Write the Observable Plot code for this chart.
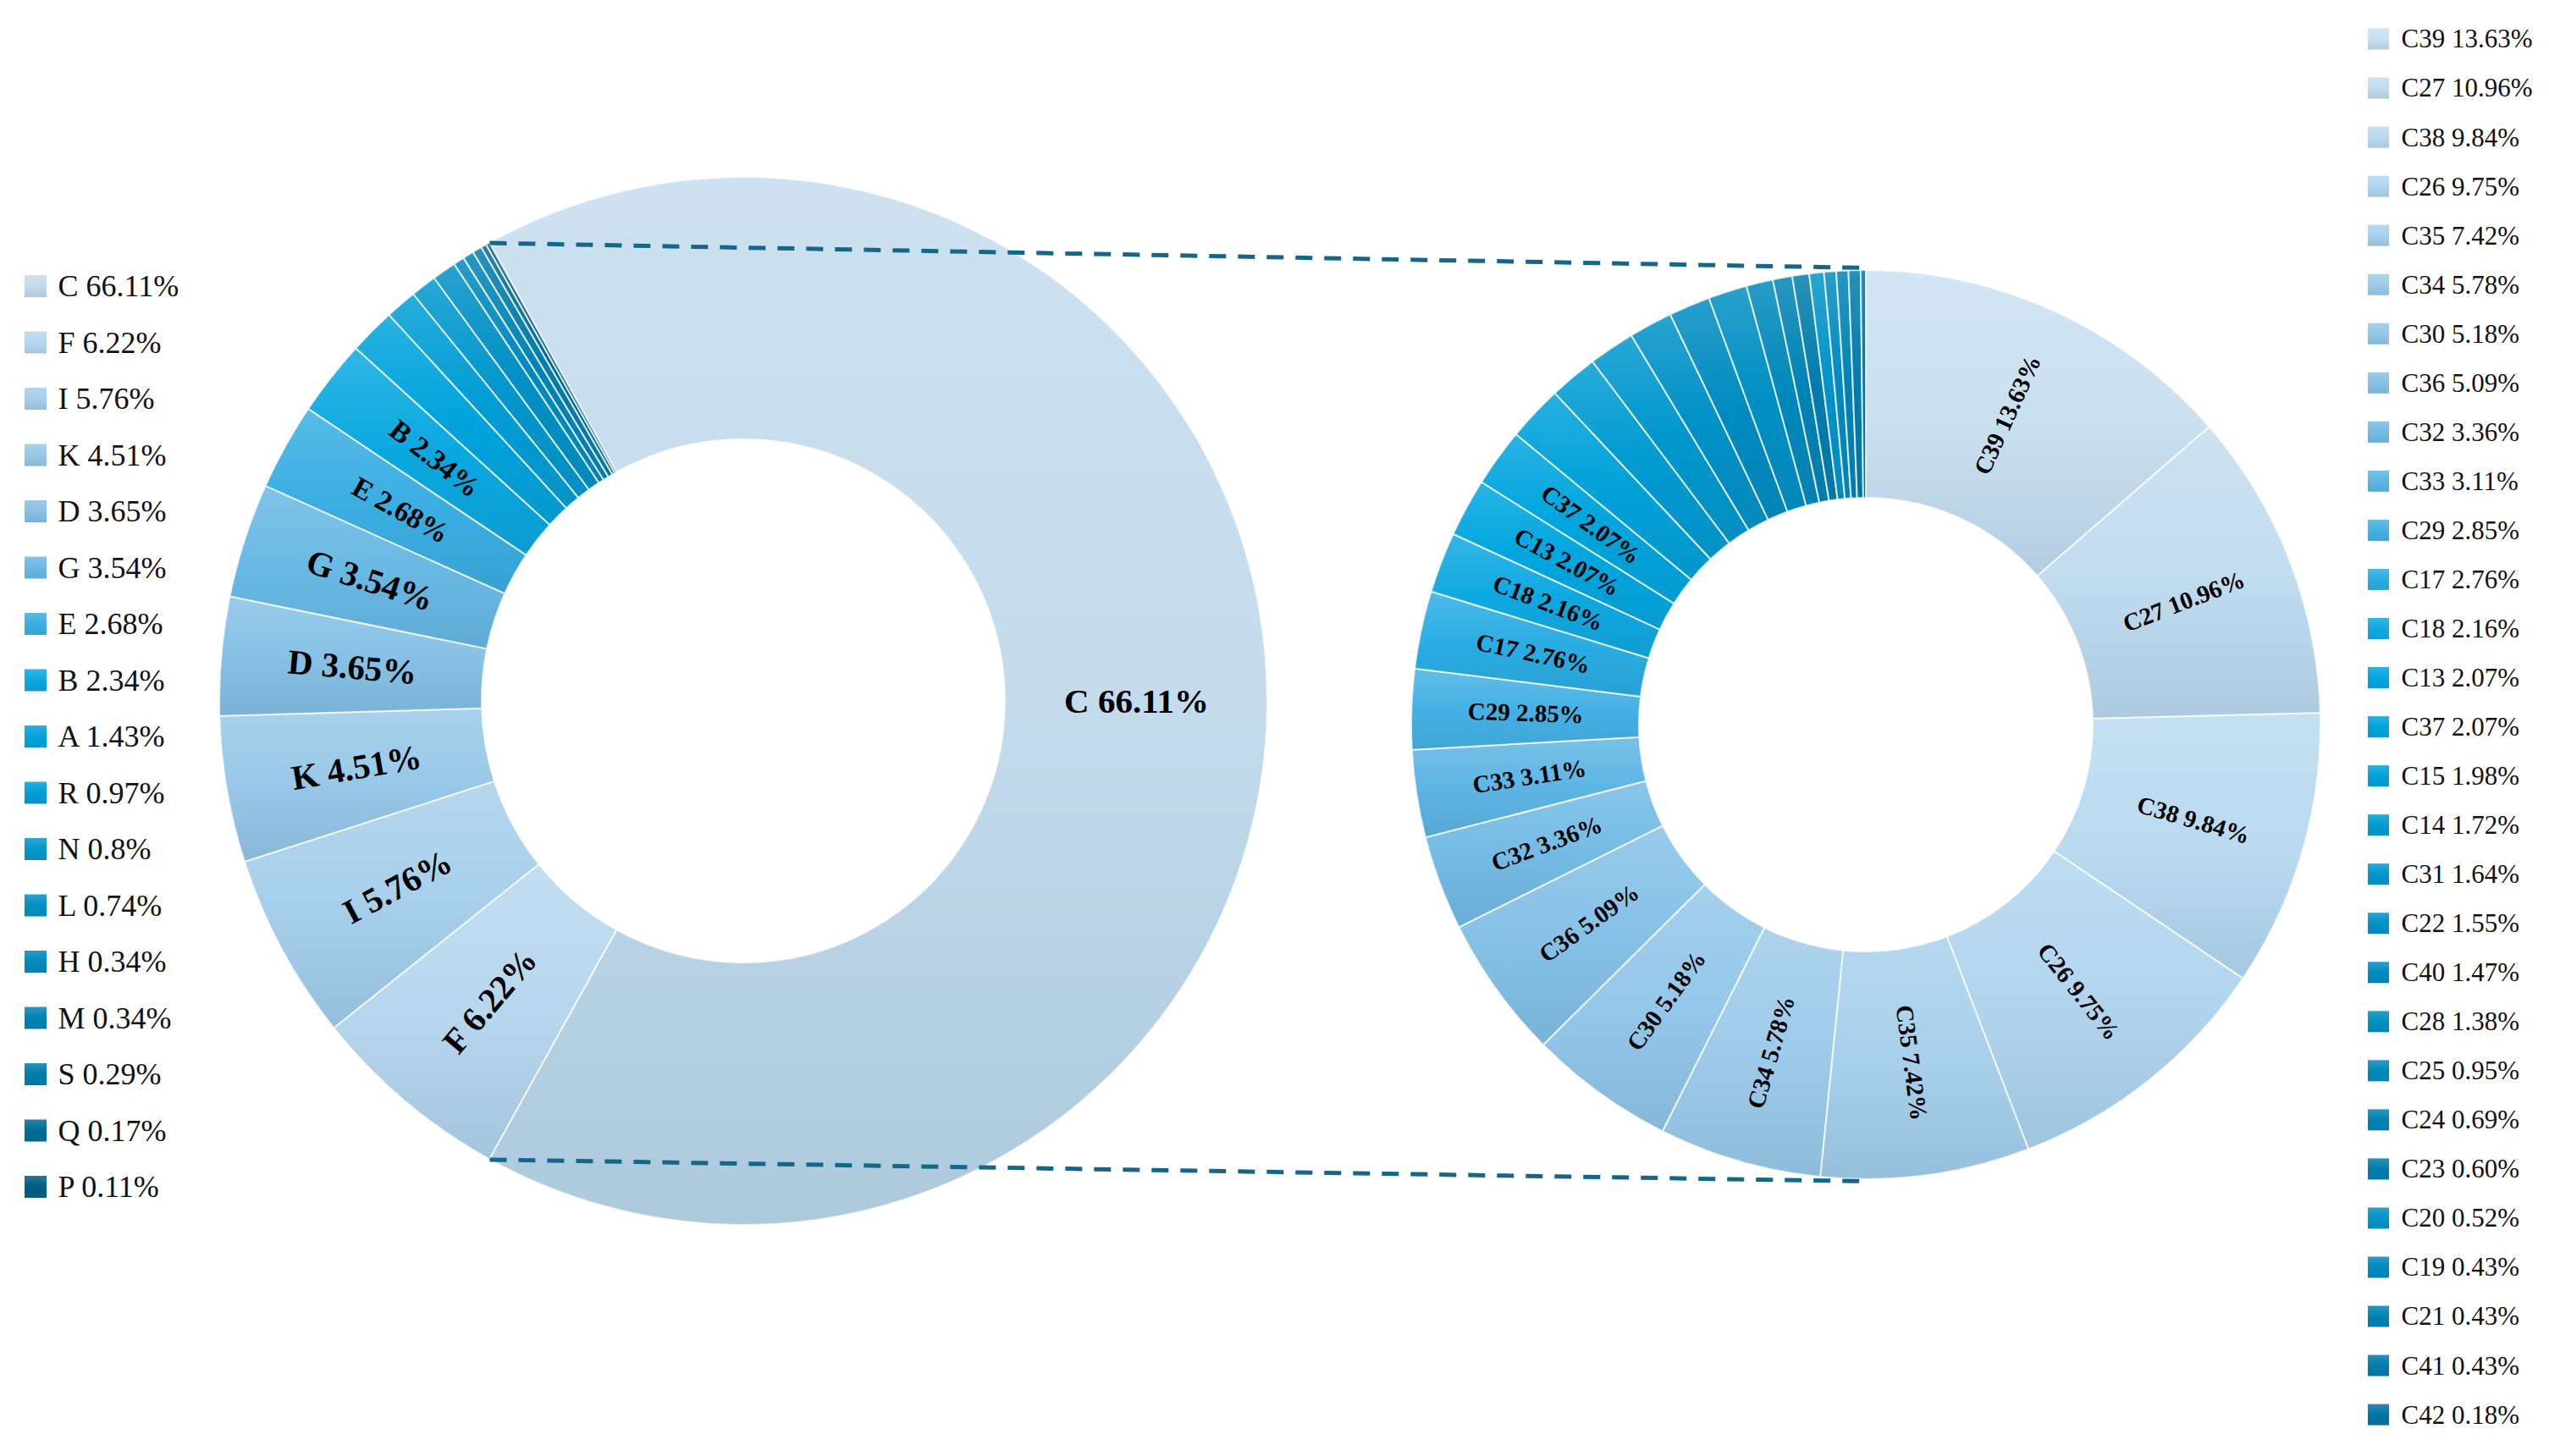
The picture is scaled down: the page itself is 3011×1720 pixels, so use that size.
<!DOCTYPE html>
<html>
<head>
<meta charset="utf-8">
<script src="https://cdn.jsdelivr.net/npm/d3@7"></script>
<script src="https://cdn.jsdelivr.net/npm/@observablehq/plot@0.6"></script>
<style>
  html, body { margin: 0; padding: 0; background: #ffffff; }
  #chart svg { display: block; }
</style>
</head>
<body>
<div id="chart"></div>
<script>
// ---------- data ----------
const mainNames = ["C","F","I","K","D","G","E","B","A","R","N","L","H","M","S","Q","P"];
const mainValues = [66.11,6.22,5.76,4.51,3.65,3.54,2.68,2.34,1.43,0.97,0.8,0.74,0.34,0.34,0.29,0.17,0.11];
const mainPct = ["66.11%","6.22%","5.76%","4.51%","3.65%","3.54%","2.68%","2.34%","1.43%","0.97%","0.8%","0.74%","0.34%","0.34%","0.29%","0.17%","0.11%"];
const mainColors = ["#c3dbed","#b7d7ee","#a7cfeb","#98c8e8","#87c1e6","#69b9e4","#3baee2","#0aa8e0","#00a3dc","#009dd5","#0097cd","#0090c5","#0089bc","#0083b5","#007cac","#006b93","#005d82"];

const subNames = ["C39","C27","C38","C26","C35","C34","C30","C36","C32","C33","C29","C17","C18","C13","C37","C15","C14","C31","C22","C40","C28","C25","C24","C23","C20","C19","C21","C41","C42"];
const subValues = [13.63,10.96,9.84,9.75,7.42,5.78,5.18,5.09,3.36,3.11,2.85,2.76,2.16,2.07,2.07,1.98,1.72,1.64,1.55,1.47,1.38,0.95,0.69,0.60,0.52,0.43,0.43,0.43,0.18];
const subPct = ["13.63%","10.96%","9.84%","9.75%","7.42%","5.78%","5.18%","5.09%","3.36%","3.11%","2.85%","2.76%","2.16%","2.07%","2.07%","1.98%","1.72%","1.64%","1.55%","1.47%","1.38%","0.95%","0.69%","0.60%","0.52%","0.43%","0.43%","0.43%","0.18%"];
const subColors = ["#c9e0f1","#c2dcf0","#badaf0","#b2d5ee","#a8d0ec","#9ecbea","#94c7e9","#86c1e7","#74bbe5","#5db5e4","#45b1e4","#2aade3","#0ea9e1","#00a6df","#00a5de","#00a1d9","#009bd2","#0097cd","#0091c7","#008bc0","#008fc3","#0088bb","#0082b4","#007cac","#0093c9","#008abf","#0082b5","#007bac","#0074a2"];

// ---------- layout ----------
const W = 3011, H = 1720;
const FONT = "'Liberation Serif', 'Times New Roman', serif";
const leftDonut = {cx: 878, cy: 828, r0: 309, r1: 619, label: 2.3};
const rightDonut = {cx: 2204, cy: 856, r0: 268, r1: 537, label: 2.0};

function buildSlices(names, values, pct, colors, donut, startAngle, prefix) {
  const pie = d3.pie().sort(null).value(d => d)
    .startAngle(startAngle).endAngle(startAngle + 2 * Math.PI);
  return pie(values).map((a, i) => {
    const mid = (a.startAngle + a.endAngle) / 2;
    const rm = (donut.r0 + donut.r1) / 2;
    let deg = ((mid * 180 / Math.PI) % 360 + 360) % 360;
    let rot = deg < 180 ? deg - 90 : deg + 90;
    if (rot > 180) rot -= 360;
    return {
      name: names[i], value: values[i], pct: pct[i], color: colors[i],
      id: prefix + i, a0: a.startAngle, a1: a.endAngle, donut,
      lx: donut.cx + rm * Math.sin(mid), ly: donut.cy - rm * Math.cos(mid), rot,
      text: names[i] + " " + pct[i]
    };
  });
}

const mainTotal = d3.sum(mainValues);
const leftStart = Math.PI / 2 - (mainValues[0] / mainTotal) * Math.PI;
const mainSlices = buildSlices(mainNames, mainValues, mainPct, mainColors, leftDonut, leftStart, "gm");
const subSlices = buildSlices(subNames, subValues, subPct, subColors, rightDonut, 0, "gs");
const allSlices = mainSlices.concat(subSlices);

// connector lines: from the edges of slice C to top / bottom of the detail donut
const cSlice = mainSlices[0];
const connectors = [
  {x1: leftDonut.cx + leftDonut.r1 * Math.sin(cSlice.a0), y1: leftDonut.cy - leftDonut.r1 * Math.cos(cSlice.a0),
   x2: rightDonut.cx, y2: rightDonut.cy - rightDonut.r1 - 3},
  {x1: leftDonut.cx + leftDonut.r1 * Math.sin(cSlice.a1), y1: leftDonut.cy - leftDonut.r1 * Math.cos(cSlice.a1),
   x2: rightDonut.cx, y2: rightDonut.cy + rightDonut.r1 + 2}
];

// legends
const leftLegend = mainSlices.map((s, i) => ({...s, ly: 338 + i * 66.5, sx: 29, tx: 68, size: 26}));
const rightLegend = subSlices.map((s, i) => ({...s, ly: 46 + i * 58.04, sx: 2797, tx: 2836, size: 25}));

function gradientDefs(defs, list) {
  for (const s of list) {
    const top = d3.interpolateRgb(s.color, "#ffffff")(0.16);
    const bot = d3.interpolateRgb(s.color, "#1c4f6e")(0.13);
    const lg = defs.append("linearGradient").attr("id", s.id)
      .attr("x1", 0).attr("y1", 0).attr("x2", 0).attr("y2", 1);
    lg.append("stop").attr("offset", "0%").attr("stop-color", top);
    lg.append("stop").attr("offset", "50%").attr("stop-color", s.color);
    lg.append("stop").attr("offset", "100%").attr("stop-color", bot);
  }
}

// custom mark: annular sectors drawn through the plot's x / y scales
function donutMark(slices) {
  return (index, scales) => {
    const g = d3.create("svg:g");
    gradientDefs(g.append("defs"), slices);
    for (const s of slices) {
      const cx = scales.x(s.donut.cx), cy = scales.y(s.donut.cy);
      const k = scales.x(s.donut.cx + 1) - scales.x(s.donut.cx);
      const arc = d3.arc().innerRadius(s.donut.r0 * k).outerRadius(s.donut.r1 * k);
      g.append("path")
        .attr("transform", `translate(${cx},${cy})`)
        .attr("d", arc({startAngle: s.a0, endAngle: s.a1}))
        .attr("fill", `url(#${s.id})`)
        .attr("stroke", "rgba(255,255,255,0.75)")
        .attr("stroke-width", 2)
        .attr("stroke-linejoin", "round");
    }
    return g.node();
  };
}

const mainLabelsBig = mainSlices.filter(s => s.value >= 3.5);
const mainLabelsSmall = mainSlices.filter(s => s.value >= leftDonut.label && s.value < 3.5);
const subLabels = subSlices.filter(s => s.value >= rightDonut.label);

const chart = Plot.plot({
  width: W, height: H,
  margin: 0,
  x: {domain: [0, W], range: [0, W], axis: null},
  y: {domain: [0, H], range: [0, H], axis: null},
  color: {type: "identity"},
  style: {background: "#ffffff"},
  marks: [
    donutMark(allSlices),
    Plot.text(mainLabelsBig, {x: "lx", y: "ly", text: "text", rotate: "rot", fontSize: 41, fontWeight: "bold", fontFamily: FONT, fill: "#000"}),
    Plot.text(mainLabelsSmall, {x: "lx", y: "ly", text: "text", rotate: "rot", fontSize: 34, fontWeight: "bold", fontFamily: FONT, fill: "#000"}),
    Plot.text(subLabels, {x: "lx", y: "ly", text: "text", rotate: "rot", fontSize: 29, fontWeight: "bold", fontFamily: FONT, fill: "#000"}),
    Plot.link(connectors, {x1: "x1", y1: "y1", x2: "x2", y2: "y2", stroke: "#15678a", strokeWidth: 5, strokeDasharray: "20,14"}),
    Plot.rect(leftLegend, {x1: "sx", x2: d => d.sx + d.size, y1: d => d.ly - d.size / 2, y2: d => d.ly + d.size / 2, fill: d => `url(#${d.id})`}),
    Plot.text(leftLegend, {x: "tx", y: "ly", text: "text", textAnchor: "start", fontSize: 36, fontFamily: FONT, fill: "#111"}),
    Plot.rect(rightLegend, {x1: "sx", x2: d => d.sx + d.size, y1: d => d.ly - d.size / 2, y2: d => d.ly + d.size / 2, fill: d => `url(#${d.id})`}),
    Plot.text(rightLegend, {x: "tx", y: "ly", text: "text", textAnchor: "start", fontSize: 31, fontFamily: FONT, fill: "#111"})
  ]
});
document.getElementById("chart").appendChild(chart);
</script>
</body>
</html>
